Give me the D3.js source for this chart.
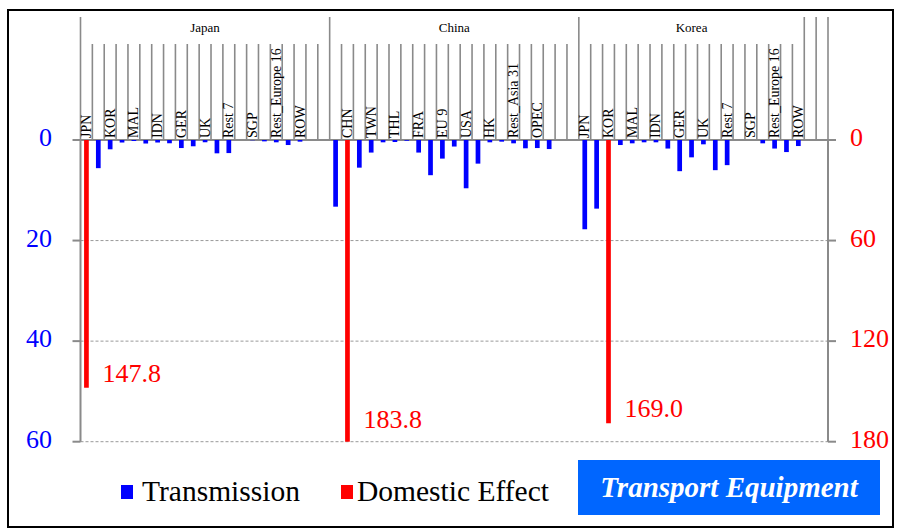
<!DOCTYPE html>
<html><head><meta charset="utf-8">
<script src="https://cdn.jsdelivr.net/npm/d3@7"></script>
<style>body{margin:0;background:#fff}svg{display:block}text{font-family:"Liberation Serif","Times New Roman",serif}</style>
</head><body><div id="chart"></div>
<script>
const groups = ["Japan", "China", "Korea"];
const countries = ["JPN","CHN","KOR","TWN","MAL","THL","IDN","FRA","GER","EU 9","UK","USA","Rest 7","HK","SGP","Rest_Asia 31","Rest_Europe 16","OPEC","ROW"];
const japanTransmission = [0, 5.6, 1.85, 0.5, 0.2, 0.7, 0.5, 0.65, 1.6, 1.25, 0.45, 2.65, 2.6, 0, 0.05, 0.27, 0.46, 1.0, 0.33];
const chinaTransmission = [13.26, 0, 5.5, 2.5, 0.46, 0.4, 0.15, 2.5, 7.0, 3.7, 1.3, 9.6, 4.7, 0.46, 0.33, 0.66, 1.65, 1.6, 1.8];
const koreaTransmission = [17.75, 13.65, 0, 1.0, 0.66, 0.46, 0.46, 1.7, 6.2, 3.45, 0.86, 6.0, 5.0, 0, 0, 0.66, 1.7, 2.4, 1.2];
const domesticCountry = ["JPN", "CHN", "KOR"];
const domesticEffect = [147.8, 183.8, 169.0];
const leftTicks = [0, 20, 40, 60];
const rightTicks = [0, 60, 120, 180];
const seriesNames = ["Transmission", "Domestic Effect"];
const title = "Transport Equipment";

const W = 899, H = 532;
const svg = d3.select("#chart").append("svg").attr("width", W).attr("height", H);
const gray = "#8a8a8a";

const transByGroup = [japanTransmission, chinaTransmission, koreaTransmission];
const slots = [];
groups.forEach((g, gi) => {
  countries.forEach((c, ci) => {
    const isDom = c === domesticCountry[gi];
    slots.push({group: g, name: c, trans: isDom ? 0 : transByGroup[gi][ci], dom: isDom ? domesticEffect[gi] : 0});
  });
  if (gi < 2) { slots.push({group: g, name: "", trans: 0, dom: 0}); slots.push({group: g, name: "", trans: 0, dom: 0}); }
});
slots.push({group: "_e1", name: "", trans: 0, dom: 0});
slots.push({group: "_e2", name: "", trans: 0, dom: 0});
slots.forEach((s, i) => s.idx = i);

const x0 = 80.5, x1 = 828;
const yTop = 140, yBot = 441.7;
const x = d3.scaleBand().domain(slots.map(s => s.idx)).range([x0, x1]).padding(0);
const yL = d3.scaleLinear().domain([0, 60]).range([yTop, yBot]);
const yR = d3.scaleLinear().domain([0, 180]).range([yTop, yBot]);

svg.append("rect").attr("x", 8).attr("y", 10).attr("width", 885).attr("height", 517)
  .attr("fill", "none").attr("stroke", "#000").attr("stroke-width", 2);

svg.append("g").selectAll("line").data(leftTicks.filter(t => t > 0)).join("line")
  .attr("x1", x0).attr("x2", x1).attr("y1", d => yL(d)).attr("y2", d => yL(d))
  .attr("stroke", "#999").attr("stroke-width", 1).attr("stroke-dasharray", "3,2");

const bw = x.bandwidth();
const bounds = d3.range(slots.length + 1).map(i => x0 + i * bw);
const groupStarts = new Set();
slots.forEach((s, i) => { if (i === 0 || slots[i - 1].group !== s.group) groupStarts.add(i); });
groupStarts.add(slots.length);
svg.append("g").selectAll("line").data(bounds.map((b, i) => ({b, i}))).join("line")
  .attr("x1", d => d.b).attr("x2", d => d.b)
  .attr("y1", d => groupStarts.has(d.i) ? 17 : 44).attr("y2", yTop)
  .attr("stroke", gray).attr("stroke-width", 1.6);

groups.forEach(g => {
  const ss = slots.filter(s => s.group === g);
  const cx = (x(ss[0].idx) + x(ss[ss.length - 1].idx) + bw) / 2;
  svg.append("text").attr("x", cx).attr("y", 29).attr("text-anchor", "middle")
    .attr("dominant-baseline", "middle").attr("font-size", 13).attr("fill", "#000").text(g);
});

svg.append("g").selectAll("text").data(slots.filter(s => s.idx % 2 === 0 && s.name)).join("text")
  .attr("transform", d => `translate(${x(d.idx) + bw / 2 + 4.5},138) rotate(-90)`)
  .attr("font-size", 14).attr("fill", "#000").text(d => d.name);

svg.append("line").attr("x1", x0).attr("x2", x1).attr("y1", yTop).attr("y2", yTop).attr("stroke", gray).attr("stroke-width", 2);
svg.append("line").attr("x1", x0).attr("x2", x0).attr("y1", yTop - 1).attr("y2", yBot).attr("stroke", gray).attr("stroke-width", 2);
svg.append("line").attr("x1", x1).attr("x2", x1).attr("y1", yTop - 1).attr("y2", yBot).attr("stroke", gray).attr("stroke-width", 2);

const lg = svg.append("g").selectAll("g").data(leftTicks).join("g");
lg.append("line").attr("x1", x0 - 8).attr("x2", x0).attr("y1", d => yL(d)).attr("y2", d => yL(d)).attr("stroke", gray).attr("stroke-width", 2);
lg.append("text").attr("x", 52).attr("y", d => yL(d)).attr("text-anchor", "end").attr("dominant-baseline", "middle")
  .attr("font-size", 26).attr("fill", "#0000ff").text(d => d);
const rg = svg.append("g").selectAll("g").data(rightTicks).join("g");
rg.append("line").attr("x1", x1).attr("x2", x1 + 8).attr("y1", d => yR(d)).attr("y2", d => yR(d)).attr("stroke", gray).attr("stroke-width", 2);
rg.append("text").attr("x", 850).attr("y", d => yR(d)).attr("text-anchor", "start").attr("dominant-baseline", "middle")
  .attr("font-size", 26).attr("fill", "#ff0000").text(d => d);

const barW = 4.7;
svg.append("g").selectAll("rect").data(slots.filter(s => s.trans > 0)).join("rect")
  .attr("x", d => x(d.idx) + bw / 2 - barW / 2).attr("width", barW)
  .attr("y", yTop).attr("height", d => yL(d.trans) - yTop).attr("fill", "#0000ff");
svg.append("g").selectAll("rect").data(slots.filter(s => s.dom > 0)).join("rect")
  .attr("x", d => x(d.idx) + bw / 2 - barW / 2).attr("width", barW)
  .attr("y", yTop).attr("height", d => Math.min(yR(d.dom), yBot) - yTop).attr("fill", "#ff0000");
svg.append("g").selectAll("text").data(slots.filter(s => s.dom > 0)).join("text")
  .attr("x", d => x(d.idx) + bw / 2 + 16)
  .attr("y", d => Math.min(yR(d.dom) - 12, yBot - 20))
  .attr("dominant-baseline", "middle").attr("font-size", 26).attr("fill", "#ff0000")
  .text(d => d.dom.toFixed(1));

const legColors = ["#0000ff", "#ff0000"];
const legX = [121, 341];
seriesNames.forEach((n, i) => {
  svg.append("rect").attr("x", legX[i]).attr("y", 485).attr("width", 12).attr("height", 14).attr("fill", legColors[i]);
  svg.append("text").attr("x", legX[i] + 16 + (i === 0 ? 5 : 0)).attr("y", 501).attr("font-size", 29.5).attr("fill", "#000").text(n);
});

svg.append("rect").attr("x", 578).attr("y", 460).attr("width", 302).attr("height", 55).attr("fill", "#0066ff");
svg.append("text").attr("x", 729).attr("y", 490).attr("text-anchor", "middle").attr("dominant-baseline", "middle")
  .attr("font-size", 29).attr("font-weight", "bold").attr("font-style", "italic").attr("fill", "#fff").text(title);
</script></body></html>
